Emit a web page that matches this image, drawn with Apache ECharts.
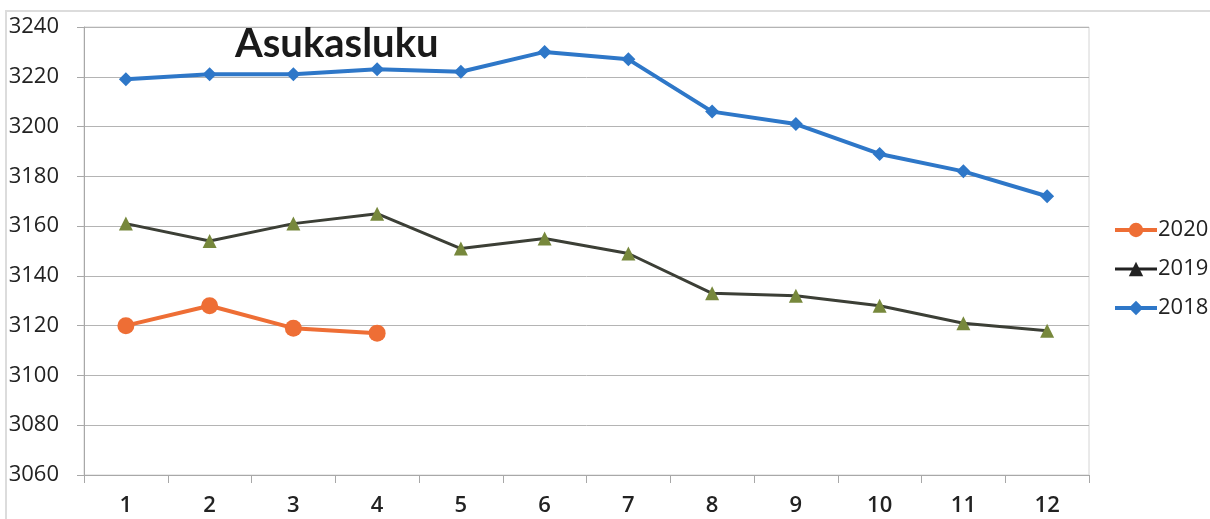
<!DOCTYPE html>
<html>
<head>
<meta charset="utf-8">
<script src="https://cdn.jsdelivr.net/npm/echarts@6/dist/echarts.min.js"></script>
<style>
  html, body { margin: 0; padding: 0; background: #fff; }
  #wrap { position: relative; width: 1210px; height: 519px; }
  #frame { position: absolute; left: 5px; top: 10px; right: 0; bottom: 0;
           border-top: 2px solid #dcdcdc; border-left: 2px solid #dcdcdc; }
  #chart { position: absolute; left: 0; top: 0; width: 1210px; height: 519px; }
</style>
</head>
<body>
<div id="wrap">
  <div id="frame"></div>
  <div id="chart"></div>
</div>
<script>
// kuukaudet
var months = ['1', '2', '3', '4', '5', '6', '7', '8', '9', '10', '11', '12']
// asukasluku vuosittain
var v2020 = [3120, 3128, 3119, 3117]
var v2019 = [3161, 3154, 3161, 3165, 3151, 3155, 3149, 3133, 3132, 3128, 3121, 3118]
var v2018 = [3219, 3221, 3221, 3223, 3222, 3230, 3227, 3206, 3201, 3189, 3182, 3172]
// y-akseli
var yMin = 3060
var yMax = 3240
var yStep = 20

var font = '"Open Sans", sans-serif'
var myChart = echarts.init(document.getElementById('chart'))

var option = {
  animation: false,
  backgroundColor: 'transparent',
  title: {
    text: 'Asukasluku',
    left: 230,
    top: 19,
    textStyle: { fontFamily: 'Lato, sans-serif', fontWeight: 'bold', fontSize: 40, color: '#1a1a1a' }
  },
  legend: {
    orient: 'vertical',
    left: 1108,
    top: 214,
    itemGap: 17,
    itemWidth: 42,
    itemHeight: 18,
    textStyle: { fontFamily: font, fontSize: 22, color: '#222', padding: [0, 0, 0, -4] },
    data: [
      { name: '2020', lineStyle: { width: 4 } },
      { name: '2019', itemStyle: { color: '#222' }, lineStyle: { color: '#222', width: 3 } },
      { name: '2018', lineStyle: { width: 4 } }
    ]
  },
  grid: {
    left: 84,
    right: 121,
    top: 27,
    bottom: 44,
    show: true,
    borderColor: '#d4d4d4',
    borderWidth: 1
  },
  xAxis: {
    type: 'category',
    data: months,
    boundaryGap: true,
    axisLine: { lineStyle: { color: '#a8a8a8', width: 1 } },
    axisTick: { show: true, length: 8, lineStyle: { color: '#a8a8a8' } },
    axisLabel: { fontFamily: font, fontSize: 22, color: '#222', fontWeight: 600, margin: 20 },
    splitLine: { show: false }
  },
  yAxis: {
    type: 'value',
    min: yMin,
    max: yMax,
    interval: yStep,
    axisLine: { show: true, lineStyle: { color: '#a8a8a8', width: 1 } },
    axisTick: { show: true, length: 7, lineStyle: { color: '#a8a8a8' } },
    axisLabel: {
      fontFamily: font, fontSize: 22, color: '#222', margin: 25,
      formatter: function (v) { return String(v) }
    },
    splitLine: { lineStyle: { color: '#b4b4b4', width: 1 } }
  },
  series: [
    {
      name: '2020',
      type: 'line',
      data: v2020,
      symbol: 'circle',
      symbolSize: 17,
      itemStyle: { color: '#ee6e35' },
      lineStyle: { color: '#ee6e35', width: 4 }
    },
    {
      name: '2019',
      type: 'line',
      data: v2019,
      symbol: 'triangle',
      symbolSize: 14,
      itemStyle: { color: '#77883c' },
      lineStyle: { color: '#3c3f36', width: 3 }
    },
    {
      name: '2018',
      type: 'line',
      data: v2018,
      symbol: 'diamond',
      symbolSize: 14,
      itemStyle: { color: '#2e77c8' },
      lineStyle: { color: '#2e77c8', width: 4 }
    }
  ]
}

myChart.setOption(option)
</script>
</body>
</html>
